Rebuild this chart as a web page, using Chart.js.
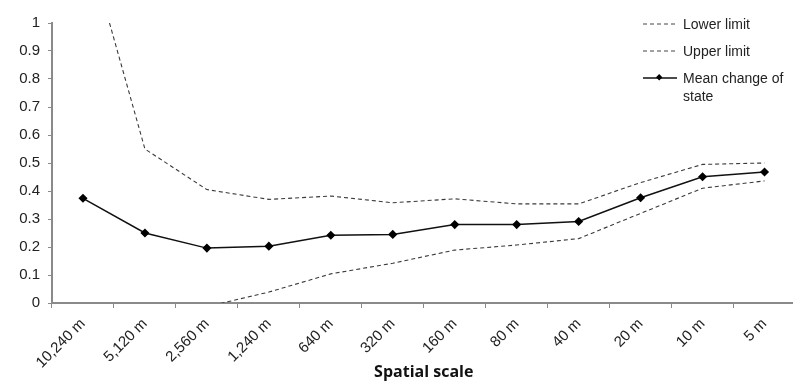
<!DOCTYPE html>
<html lang="en">
<head>
    <meta charset="UTF-8">
    <meta name="viewport" content="width=device-width, initial-scale=1.0">
    <title>Mean change of state by spatial scale</title>
    <script src="https://cdn.jsdelivr.net/npm/chart.js"></script>
    <style>
        body { margin: 0; overflow: hidden; background: #fff; }
        #wrap { position: relative; width: 801px; height: 383px; }
        #legend { position: absolute; left: 643px; top: 15px; font-family: "Liberation Sans", Arial, sans-serif; font-size: 14px; color: #222; }
        .row { position: relative; padding-left: 40px; line-height: 18px; margin-bottom: 9px; }
        .row svg { position: absolute; left: 0; top: 3px; }
    </style>
</head>
<body>
    <div id="wrap">
        <canvas id="mychart"></canvas>
        <div id="legend">
            <div class="row"><svg width="36" height="12"><line x1="0" y1="6" x2="34" y2="6" stroke="#444" stroke-width="1" stroke-dasharray="4,3"/></svg>Lower limit</div>
            <div class="row"><svg width="36" height="12"><line x1="0" y1="6" x2="34" y2="6" stroke="#444" stroke-width="1" stroke-dasharray="4,3"/></svg>Upper limit</div>
            <div class="row"><svg width="36" height="12"><line x1="0" y1="6" x2="34" y2="6" stroke="#111" stroke-width="1.5"/><rect x="14" y="3" width="4.5" height="4.5" fill="#000" transform="rotate(45 16.2 5.2)"/></svg>Mean change of<br>state</div>
        </div>
    </div>
    <script>
        const scales = ['10,240 m', '5,120 m', '2,560 m', '1,240 m', '640 m', '320 m', '160 m', '80 m', '40 m', '20 m', '10 m', '5 m'];
        const meanChange = [0.374, 0.25, 0.196, 0.203, 0.242, 0.245, 0.28, 0.28, 0.291, 0.376, 0.451, 0.468];
        const lowerLimit = [null, null, -0.013, 0.039, 0.104, 0.142, 0.189, 0.207, 0.23, 0.32, 0.41, 0.436];
        const upperLimit = [1.337, 0.55, 0.405, 0.37, 0.382, 0.358, 0.372, 0.354, 0.354, 0.43, 0.495, 0.5];
        const yTickLabels = ['0', '0.1', '0.2', '0.3', '0.4', '0.5', '0.6', '0.7', '0.8', '0.9', '1'];

        const axisColor = '#8a8a8a';
        const fontFamily = '"Liberation Sans", Arial, sans-serif';

        new Chart(document.querySelector('#mychart'), {
            type: 'line',
            data: {
                labels: scales,
                datasets: [
                    {
                        label: 'Lower limit',
                        data: lowerLimit,
                        borderColor: '#3a3a3a',
                        borderWidth: 1.1,
                        borderDash: [4, 3],
                        pointRadius: 0,
                        tension: 0
                    },
                    {
                        label: 'Upper limit',
                        data: upperLimit,
                        borderColor: '#3a3a3a',
                        borderWidth: 1.1,
                        borderDash: [4, 3],
                        pointRadius: 0,
                        tension: 0
                    },
                    {
                        label: 'Mean change of state',
                        data: meanChange,
                        borderColor: '#111',
                        borderWidth: 1.5,
                        pointStyle: 'rectRot',
                        pointRadius: 3.5,
                        pointBackgroundColor: '#000',
                        pointBorderColor: '#000',
                        tension: 0
                    }
                ]
            },
            options: {
                responsive: true,
                maintainAspectRatio: false,
                animation: false,
                layout: { padding: { top: 23, right: 0, left: 0, bottom: 0 } },
                plugins: {
                    legend: { display: false },
                    tooltip: { enabled: false }
                },
                scales: {
                    x: {
                        offset: true,
                        grid: { offset: true, drawOnChartArea: false, drawTicks: true, tickLength: 5, color: axisColor },
                        border: { color: axisColor, width: 2 },
                        ticks: { color: '#222', font: { family: fontFamily, size: 15 }, minRotation: 45, maxRotation: 45, padding: 7 },
                        title: { display: true, text: 'Spatial scale', color: '#111', font: { family: '"Open Sans", sans-serif', size: 16, weight: 'bold' }, padding: { top: 0, bottom: 1 } },
                        afterFit: s => { s.height = 80; }
                    },
                    y: {
                        min: 0,
                        max: 1,
                        ticks: { stepSize: 0.1, color: '#222', font: { family: fontFamily, size: 15 }, padding: 8, callback: (v, i) => yTickLabels[i] },
                        grid: { drawOnChartArea: false, drawTicks: true, tickLength: 4, color: axisColor },
                        border: { color: axisColor, width: 2 },
                        afterFit: s => { s.width = 52; }
                    }
                }
            }
        });
    </script>
</body>
</html>
